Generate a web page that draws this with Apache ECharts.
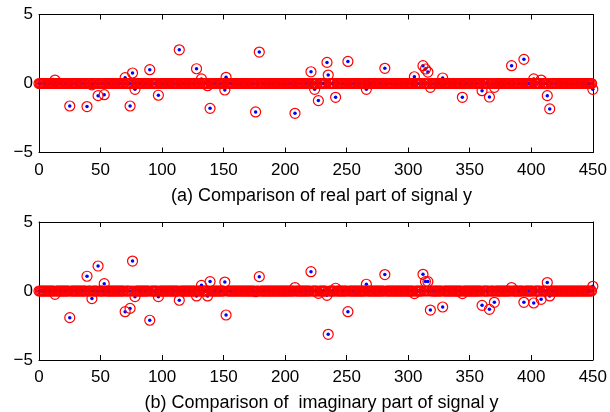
<!DOCTYPE html>
<html>
<head>
<meta charset="utf-8">
<script src="https://cdn.jsdelivr.net/npm/echarts@6/dist/echarts.min.js"></script>
<style>
	html, body { margin: 0; padding: 0; background: #fff; }
	#main { width: 610px; height: 412px; }
</style>
</head>
<body>
<div id="main"></div>
<script>
// signal length (samples 0..450), most samples are zero
var sampleCount = 451;
// sample positions of the non zero entries
var spikeIndex = [13, 25, 39, 43, 48, 53, 70, 74, 76, 78, 90, 97, 114, 128, 132, 137, 139, 151, 152, 176,
	179, 208, 221, 224, 227, 234, 235, 241, 251, 266, 281, 305, 312, 314, 316, 318, 328, 344, 360, 366,
	370, 384, 394, 402, 408, 413, 415, 450];
// real part at those positions
var realPart = [0.25, -1.63, -1.67, -0.1, -0.88, -0.81, 0.42, -1.63, 0.76, -0.42, 1.0, -0.85, 2.44, 1.07, 0.33, -0.16, -1.8, -0.47, 0.45, -2.06,
	2.28, -2.16, 0.85, -0.42, -1.24, 1.53, 0.61, -1.0, 1.6, -0.42, 1.1, 0.49, 1.29, 1.05, 0.83, -0.28, 0.4, -1.0, -0.52, -0.98,
	-0.28, 1.29, 1.75, 0.33, 0.25, -0.88, -1.84, -0.42];
// imaginary part at those positions
var imagPart = [-0.24, -1.93, 1.07, -0.55, 1.81, 0.53, -1.5, -1.26, 2.17, -0.41, -2.12, -0.41, -0.67, -0.36, 0.41, -0.36, 0.68, 0.65, -1.74, -0.05,
	1.04, 0.25, 1.4, 0.0, -0.17, -0.31, -3.14, 0.2, -1.5, 0.49, 1.19, -0.19, 1.21, 0.68, 0.68, -1.38, -1.16, -0.19, -1.04, -1.33,
	-0.82, 0.25, -0.82, -0.87, -0.6, 0.61, -0.36, 0.34];
var xTicks = { min: 0, max: 450, interval: 50 };
var yTicks = { min: -5, max: 5, interval: 5 };

var titles = ['(a) Comparison of real part of signal y', '(b) Comparison of  imaginary part of signal y'];

function buildSignal(values){
	var arr = [];
	for(var i = 0; i < sampleCount; i++){
		arr.push([i, 0]);
	}
	for(var k = 0; k < spikeIndex.length; k++){
		arr[spikeIndex[k]][1] = values[k];
	}
	return arr;
}

var realSignal = buildSignal(realPart);
var imagSignal = buildSignal(imagPart);

var font = 'Liberation Sans, Arial, Helvetica, sans-serif';
var gridTops = [14.5, 222];

var myChart = echarts.init(document.getElementById('main'), null, { renderer: 'canvas' });

var grids = [], xAxes = [], yAxes = [], series = [], titleArr = [];
for(var g = 0; g < 2; g++){
	grids.push({ left: 39, top: gridTops[g], width: 555, height: 138, show: false });
	// bottom x axis with labels, top x axis only for the box ticks
	xAxes.push({
		type: 'value', gridIndex: g, min: xTicks.min, max: xTicks.max, interval: xTicks.interval,
		axisLine: { show: true, onZero: false, lineStyle: { color: '#000', width: 1 } },
		axisTick: { show: true, inside: true, length: 5, lineStyle: { color: '#000' } },
		axisLabel: { color: '#000', fontSize: 17, fontFamily: font, margin: 9 },
		splitLine: { show: false }
	});
	xAxes.push({
		type: 'value', gridIndex: g, position: 'top', min: xTicks.min, max: xTicks.max, interval: xTicks.interval,
		axisLine: { show: true, onZero: false, lineStyle: { color: '#000', width: 1 } },
		axisTick: { show: true, inside: true, length: 5, lineStyle: { color: '#000' } },
		axisLabel: { show: false },
		splitLine: { show: false }
	});
	yAxes.push({
		type: 'value', gridIndex: g, min: yTicks.min, max: yTicks.max, interval: yTicks.interval,
		axisLine: { show: true, onZero: false, lineStyle: { color: '#000', width: 1 } },
		axisTick: { show: true, inside: true, length: 5, lineStyle: { color: '#000' } },
		axisLabel: { color: '#000', fontSize: 17, fontFamily: font, margin: 6,
			formatter: function(v){ return String(v).replace('-', '\u2212'); } },
		splitLine: { show: false }
	});
	yAxes.push({
		type: 'value', gridIndex: g, position: 'right', min: yTicks.min, max: yTicks.max, interval: yTicks.interval,
		axisLine: { show: true, onZero: false, lineStyle: { color: '#000', width: 1 } },
		axisTick: { show: true, inside: true, length: 5, lineStyle: { color: '#000' } },
		axisLabel: { show: false },
		splitLine: { show: false }
	});
	var data = g === 0 ? realSignal : imagSignal;
	// blue dots (recovered) first, red circles (original) on top
	series.push({
		type: 'scatter', xAxisIndex: g * 2, yAxisIndex: g * 2, data: data,
		symbol: 'circle', symbolSize: 3.5, silent: true, z: 2,
		itemStyle: { color: '#0000ff', opacity: 1 }
	});
	series.push({
		type: 'scatter', xAxisIndex: g * 2, yAxisIndex: g * 2, data: data,
		symbol: 'circle', symbolSize: 10, silent: true, z: 3,
		itemStyle: { color: 'rgba(0,0,0,0)', borderColor: '#ff0000', borderWidth: 1.2, opacity: 1 }
	});
	titleArr.push({
		text: titles[g], left: 316.5, textAlign: 'center', top: g === 0 ? 182 : 389,
		textStyle: { color: '#000', fontSize: 18, fontWeight: 'normal', fontFamily: font }
	});
}

var option = {
	backgroundColor: '#fff',
	animation: false,
	title: titleArr,
	grid: grids,
	xAxis: xAxes,
	yAxis: yAxes,
	series: series
};
myChart.setOption(option);
</script>
</body>
</html>
